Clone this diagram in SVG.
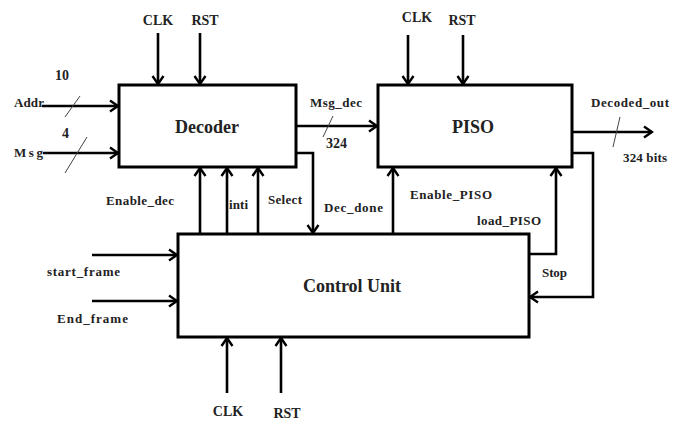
<svg xmlns="http://www.w3.org/2000/svg" width="682" height="421" viewBox="0 0 682 421">
<style>
.box{fill:#fff;stroke:#000;stroke-width:3}
.w{fill:none;stroke:#000;stroke-width:2.6}
.sl{stroke:#444;stroke-width:1}
text{font-family:'Liberation Serif','Times New Roman','DejaVu Serif',serif;font-weight:bold;fill:#222}
.s{font-size:13px}
.m{font-size:14px}
.t{font-size:18px}
</style>
<defs>
<marker id="a" markerUnits="userSpaceOnUse" markerWidth="14" markerHeight="14" viewBox="0 0 14 14" refX="12" refY="7" orient="auto">
<path d="M4,1.5 L12,7 L4,12.5" fill="none" stroke="#000" stroke-width="2.4"/>
</marker>
</defs>
<rect width="682" height="421" fill="#fff"/>
<g id="decoder"><rect class="box" x="119" y="85" width="177" height="82"/><text class="t" x="207" y="133" text-anchor="middle">Decoder</text></g>
<g id="piso"><rect class="box" x="378" y="85" width="194" height="82"/><text class="t" x="473" y="133" text-anchor="middle">PISO</text></g>
<g id="control"><rect class="box" x="178" y="234" width="351" height="103"/><text class="t" x="352" y="292" text-anchor="middle">Control Unit</text></g>
<g id="connectors">
<path class="w" d="M158,33 V84" marker-end="url(#a)"/>
<path class="w" d="M200,33 V84" marker-end="url(#a)"/>
<path class="w" d="M408,35 V84" marker-end="url(#a)"/>
<path class="w" d="M463,35 V84" marker-end="url(#a)"/>
<path class="w" d="M42,106 H118" marker-end="url(#a)"/>
<path class="w" d="M43,153 H118" marker-end="url(#a)"/>
<line class="sl" x1="65" y1="117" x2="80" y2="96"/>
<line class="sl" x1="65" y1="173" x2="87" y2="137"/>
<path class="w" d="M296,126 H377" marker-end="url(#a)"/>
<line class="sl" x1="323" y1="137" x2="333" y2="116"/>
<path class="w" d="M296,153 H313 V233" marker-end="url(#a)"/>
<path class="w" d="M200,234 V168" marker-end="url(#a)"/>
<path class="w" d="M227,234 V168" marker-end="url(#a)"/>
<path class="w" d="M258,234 V168" marker-end="url(#a)"/>
<path class="w" d="M393,234 V168" marker-end="url(#a)"/>
<path class="w" d="M529,254 H556 V168" marker-end="url(#a)"/>
<path class="w" d="M572,153 H593 V297 H530" marker-end="url(#a)"/>
<path class="w" d="M572,132 H652" marker-end="url(#a)"/>
<line class="sl" x1="613" y1="147" x2="620" y2="117"/>
<path class="w" d="M92,255 H177" marker-end="url(#a)"/>
<path class="w" d="M92,301 H177" marker-end="url(#a)"/>
<path class="w" d="M227,393 V338" marker-end="url(#a)"/>
<path class="w" d="M281,393 V338" marker-end="url(#a)"/>
</g>
<g id="labels">
<text class="m" x="158" y="25" text-anchor="middle">CLK</text>
<text class="m" x="205" y="25" text-anchor="middle">RST</text>
<text class="m" x="417" y="22" text-anchor="middle">CLK</text>
<text class="m" x="462" y="25" text-anchor="middle">RST</text>
<text class="s" x="14" y="107" textLength="30">Addr</text>
<text class="m" x="55" y="80">10</text>
<text class="s" x="14" y="157" textLength="29">Msg</text>
<text class="m" x="62" y="138">4</text>
<text class="s" x="310" y="107" textLength="52">Msg_dec</text>
<text class="m" x="326" y="148">324</text>
<text class="s" x="106" y="205" textLength="68">Enable_dec</text>
<text class="s" x="229" y="209" textLength="19">inti</text>
<text class="s" x="268" y="204" textLength="34">Select</text>
<text class="s" x="324" y="212" textLength="59">Dec_done</text>
<text class="s" x="410" y="199" textLength="82">Enable_PISO</text>
<text class="s" x="477" y="225" textLength="64">load_PISO</text>
<text class="s" x="542" y="277" textLength="25">Stop</text>
<text class="s" x="591" y="107" textLength="78">Decoded_out</text>
<text class="s" x="623" y="162" textLength="44">324 bits</text>
<text class="s" x="47" y="276" textLength="73">start_frame</text>
<text class="s" x="57" y="323" textLength="71">End_frame</text>
<text class="m" x="228" y="416" text-anchor="middle">CLK</text>
<text class="m" x="287" y="418" text-anchor="middle">RST</text>
</g>
</svg>
